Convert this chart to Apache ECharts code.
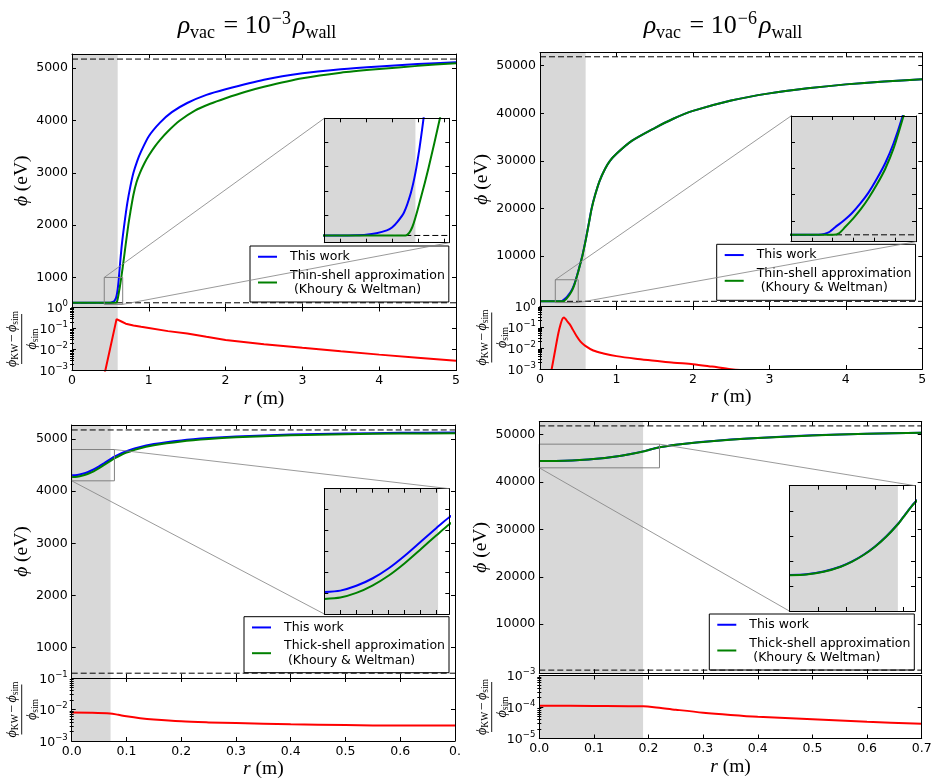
<!DOCTYPE html>
<html><head><meta charset="utf-8"><title>Chameleon field profiles</title>
<script src="https://cdn.jsdelivr.net/npm/echarts@6.0.0/dist/echarts.min.js"></script>
<style>html,body{margin:0;padding:0;background:#fff;}#chart{width:932px;height:779px;}</style>
</head><body><div id="chart"></div>
<script>
// ---------------- data ----------------
const thinTickX = [0, 1, 2, 3, 4, 5];
const thickTickX = [0, 0.1, 0.2, 0.3, 0.4, 0.5, 0.6, 0.7];
const leftTickY = [1000, 2000, 3000, 4000, 5000];
const rightTickY = [10000, 20000, 30000, 40000, 50000];

const tlYRange = [425, 5272];
const trYRange = [-520, 52740];
const blYRange = [420, 5270];
const brYRange = [-350, 52740];

const tlResRange = [1e-3, 1];
const trResRange = [1e-3, 1];
const blResRange = [1e-3, 1e-1];
const brResRange = [1e-5, 1e-3];

const tlWall = [5175, 515];
const trWall = [51880, 463];
const blWall = [5175, 512];
const brWall = [51850, 300];

const tlShade = [0, 0.595];
const trShade = [0, 0.597];
const blShade = [0, 0.071];
const brShade = [0, 0.19];

const tlInsetX = [0.42, 0.66], tlInsetY = [485, 1000];
const tlInsetTickX = [0.45, 0.5, 0.55, 0.6, 0.65], tlInsetTickY = [600, 700, 800, 900];
const trInsetX = [0.2, 0.5], trInsetY = [200, 5000];
const trInsetTickX = [0.25, 0.3, 0.35, 0.4, 0.45], trInsetTickY = [1000, 2000, 3000, 4000];
const blInsetX = [0, 0.078], blInsetY = [4200, 4800];
const blInsetTickX = [0.01, 0.02, 0.03, 0.04, 0.05, 0.06, 0.07], blInsetTickY = [4300, 4400, 4500, 4600, 4700];
const brInsetX = [0, 0.22], brInsetY = [43000, 48000];
const brInsetTickX = [0.05, 0.1, 0.15, 0.2], brInsetTickY = [44000, 45000, 46000, 47000];

const tlBlue = [[0,515],[0.45,515],[0.48,516],[0.5,518],[0.52,524],[0.54,536],[0.55,548],[0.56,570],[0.573,610],[0.586,690],[0.595,775],[0.603,880],[0.61,990],[0.625,1250],[0.65,1640],[0.68,2000],[0.72,2420],[0.76,2740],[0.8,3000],[0.85,3230],[0.9,3410],[1.0,3700],[1.146,3960],[1.3,4160],[1.5,4335],[1.75,4490],[2,4598],[2.5,4780],[3,4904],[3.5,4980],[4,5035],[4.5,5080],[5,5115]];
const tlGreen = [[0,515],[0.576,515],[0.589,550],[0.605,668],[0.62,793],[0.642,1000],[0.66,1190],[0.68,1410],[0.7,1640],[0.733,2000],[0.76,2250],[0.8,2580],[0.84,2820],[0.885,3000],[0.94,3175],[1.0,3330],[1.08,3505],[1.15,3635],[1.25,3795],[1.4,3995],[1.6,4190],[1.8,4320],[2,4426],[2.25,4545],[2.5,4645],[3,4808],[3.5,4915],[4,4985],[4.5,5045],[5,5096]];
const tlRed = [[0.40,0.0004],[0.434,0.001],[0.58,0.28],[0.6,0.26],[0.65,0.21],[0.7,0.17],[0.8,0.14],[0.9,0.12],[1.0,0.105],[1.25,0.075],[1.5,0.058],[1.75,0.04],[2,0.028],[2.5,0.018],[3,0.012],[3.5,0.0082],[4,0.0057],[4.5,0.0041],[5,0.0029]];

const trBlue = [[0,463],[0.25,463],[0.266,466],[0.28,500],[0.293,580],[0.306,752],[0.326,1000],[0.346,1285],[0.366,1650],[0.386,2072],[0.406,2600],[0.426,3195],[0.446,3950],[0.466,4900],[0.5,6800],[0.53,8600],[0.553,10000],[0.6,13600],[0.64,17000],[0.675,20000],[0.72,22800],[0.78,25800],[0.85,28300],[0.915,30000],[1.0,31500],[1.2,34200],[1.5,36900],[1.75,38900],[2,40500],[2.5,42700],[3,44190],[3.5,45250],[4,46080],[4.5,46700],[5,47140]];
const trGreen = [[0,463],[0.302,463],[0.315,520],[0.33,760],[0.35,1100],[0.368,1450],[0.386,1858],[0.406,2380],[0.426,2976],[0.447,3800],[0.47,5000],[0.5,6700],[0.53,8500],[0.553,9900],[0.6,13500],[0.64,16900],[0.675,19900],[0.72,22750],[0.78,25780],[0.85,28290],[0.915,30000],[1.0,31500],[1.2,34200],[1.5,36900],[1.75,38900],[2,40500],[2.5,42700],[3,44190],[3.5,45250],[4,46080],[4.5,46700],[5,47140]];
const trRed = [[0.13,0.0004],[0.153,0.001],[0.2,0.0085],[0.24,0.05],[0.27,0.14],[0.295,0.25],[0.314,0.28],[0.335,0.24],[0.36,0.18],[0.392,0.13],[0.43,0.075],[0.48,0.036],[0.53,0.02],[0.588,0.013],[0.697,0.0076],[0.83,0.0055],[1.0,0.0041],[1.25,0.0031],[1.5,0.0025],[1.75,0.002],[2.0,0.0017],[2.25,0.0013],[2.5,0.00098],[3,0.0007]];

const blBlue = [[0,4305],[0.01,4312],[0.02,4335],[0.03,4370],[0.04,4418],[0.05,4478],[0.06,4545],[0.07,4612],[0.078,4663],[0.09,4725],[0.1,4768],[0.12,4836],[0.15,4905],[0.2,4975],[0.25,5020],[0.3,5050],[0.4,5088],[0.5,5107],[0.6,5120],[0.7,5127]];
const blGreen = [[0,4272],[0.01,4279],[0.02,4301],[0.03,4336],[0.04,4383],[0.05,4442],[0.06,4509],[0.07,4577],[0.078,4630],[0.09,4695],[0.1,4740],[0.12,4811],[0.15,4882],[0.2,4955],[0.25,5002],[0.3,5033],[0.4,5072],[0.5,5093],[0.6,5106],[0.7,5112]];
const blRed = [[0,0.008],[0.035,0.0079],[0.07,0.0075],[0.085,0.0068],[0.1,0.0061],[0.125,0.0053],[0.15,0.0048],[0.2,0.0042],[0.25,0.0039],[0.3,0.0037],[0.4,0.0034],[0.5,0.0032],[0.6,0.0031],[0.7,0.0031]];

const brBlue = [[0,44440],[0.03,44470],[0.06,44574],[0.09,44778],[0.11,44980],[0.13,45244],[0.15,45575],[0.17,45982],[0.19,46471],[0.2,46770],[0.21,47070],[0.22,47340],[0.235,47630],[0.25,47870],[0.275,48210],[0.3,48490],[0.35,48960],[0.4,49310],[0.5,49860],[0.6,50210],[0.7,50430]];
const brGreen = [[0,44430],[0.03,44460],[0.06,44564],[0.09,44768],[0.11,44970],[0.13,45234],[0.15,45565],[0.17,45972],[0.19,46461],[0.2,46760],[0.21,47060],[0.22,47330],[0.235,47620],[0.25,47860],[0.275,48200],[0.3,48480],[0.35,48950],[0.4,49300],[0.5,49850],[0.6,50200],[0.7,50420]];
const brRed = [[0,1.1e-4],[0.1,1.08e-4],[0.19,1.05e-4],[0.21,9.9e-5],[0.25,8.2e-5],[0.3,6.6e-5],[0.35,5.6e-5],[0.4,4.9e-5],[0.5,4.1e-5],[0.6,3.4e-5],[0.7,2.95e-5]];

const nameThis = 'This work';
const nameThin = 'Thin-shell approximation\n (Khoury & Weltman)';
const nameThick = 'Thick-shell approximation\n (Khoury & Weltman)';

// ---------------- styling ----------------
const FONT = 'DejaVu Sans', SERIF = 'Liberation Serif';
const BLUE = '#0000ff', GREEN = '#008000', RED = '#ff0000', SHADE = '#d8d8d8', BOXC = '#808080';

const grids = [], xAxes = [], yAxes = [], series = [], legends = [], links = [], graphics = [];

function grid(r) { grids.push({left: r[0], top: r[1], width: r[2], height: r[3], containLabel: false, outerBoundsMode: 'none'}); return grids.length - 1; }
function addX(o) { xAxes.push(o); return xAxes.length - 1; }
function addY(o) { yAxes.push(o); return yAxes.length - 1; }
function valAxis(g, pos, range, ticks, opts) {
  return Object.assign({
    type: 'value', gridIndex: g, position: pos, min: range[0], max: range[1], z: 10,
    axisLine: {show: true, onZero: false, lineStyle: {color: '#000', width: 1}},
    axisTick: {show: true, inside: true, length: 4, lineStyle: {color: '#000', width: 1}, customValues: ticks},
    axisLabel: {show: false}, splitLine: {show: false}, splitArea: {show: false}
  }, opts || {});
}
function labelStyle(ticks, fmt) {
  return {show: true, customValues: ticks, fontFamily: FONT, fontSize: 12.5, color: '#000', margin: 4, formatter: fmt};
}
const nameRich = {
  i: {fontFamily: SERIF, fontStyle: 'italic', fontSize: 19.5, color: '#000'},
  n: {fontFamily: SERIF, fontSize: 19.5, color: '#000'}
};
function logAxis(g, pos, range, labels) {
  return {
    type: 'log', logBase: 10, gridIndex: g, position: pos, min: range[0], max: range[1], z: 10,
    axisLine: {show: true, onZero: false, lineStyle: {color: '#000', width: 1}},
    axisTick: {show: true, inside: true, length: 4, lineStyle: {color: '#000', width: 1}},
    axisLabel: labels ? {
      show: true, margin: 4,
      formatter: v => { const e = Math.round(Math.log10(v)); return '{b|10}{s|' + (e < 0 ? '\u2212' + (-e) : e) + '}'; },
      rich: {
        b: {fontFamily: FONT, fontSize: 12.5, color: '#000', lineHeight: 16, verticalAlign: 'bottom'},
        s: {fontFamily: FONT, fontSize: 8.5, color: '#000', lineHeight: 10, verticalAlign: 'top'}
      }
    } : {show: false},
    splitLine: {show: false}, minorTick: {show: false}
  };
}
function minorLog(range) {
  const a = Math.round(Math.log10(range[0])), b = Math.round(Math.log10(range[1]));
  const out = [];
  for (let n = a; n < b; n++) for (let k = 2; k <= 9; k++) out.push(n + Math.log10(k));
  return out;
}
function curve(xi, yi, data, color, name, z, extra) {
  series.push(Object.assign({
    type: 'line', name: name, xAxisIndex: xi, yAxisIndex: yi, data: data,
    symbol: 'none', showSymbol: false, smooth: 0.25,
    lineStyle: {color: color, width: 2}, itemStyle: {color: color},
    z: z, silent: true, clip: true, animation: false
  }, extra || {}));
}
function shade(xi, yi, s, yr) {
  series.push({
    type: 'line', xAxisIndex: xi, yAxisIndex: yi, data: [[s[0], yr[1]], [s[1], yr[1]]],
    symbol: 'none', lineStyle: {width: 0, opacity: 0},
    areaStyle: {color: SHADE, opacity: 1, origin: 'start'}, z: 1, silent: true, clip: true, animation: false
  });
}
function dashed(xi, yi, xr, levels) {
  levels.forEach(v => series.push({
    type: 'line', xAxisIndex: xi, yAxisIndex: yi, data: [[xr[0], v], [xr[1], v]],
    symbol: 'none', lineStyle: {color: '#000', width: 1, type: [6, 3]}, z: 2, silent: true, clip: true, animation: false
  }));
}
function box(xi, yi, bx, by) {
  series.push({
    type: 'line', xAxisIndex: xi, yAxisIndex: yi,
    data: [[bx[0], by[0]], [bx[1], by[0]], [bx[1], by[1]], [bx[0], by[1]], [bx[0], by[0]]],
    symbol: 'none', lineStyle: {color: BOXC, width: 1}, z: 4, silent: true, clip: true, animation: false
  });
}
const titleRich = {
  i: {fontFamily: SERIF, fontStyle: 'italic', fontSize: 26, color: '#000', lineHeight: 32, verticalAlign: 'middle'},
  n: {fontFamily: SERIF, fontSize: 26, color: '#000', lineHeight: 32, verticalAlign: 'middle', padding: [0, 1, 0, 2]},
  s: {fontFamily: SERIF, fontSize: 18, color: '#000', lineHeight: 18, verticalAlign: 'bottom'},
  p: {fontFamily: SERIF, fontSize: 18, color: '#000', lineHeight: 16, verticalAlign: 'top', padding: [0, 2, 0, 0]}
};
const fracRich = {
  i: {fontFamily: SERIF, fontStyle: 'italic', fontSize: 14, color: '#000', lineHeight: 16, verticalAlign: 'middle'},
  n: {fontFamily: SERIF, fontSize: 14, color: '#000', lineHeight: 16, verticalAlign: 'middle', padding: [0, 2, 0, 2]},
  s: {fontFamily: SERIF, fontSize: 9.5, color: '#000', lineHeight: 8, verticalAlign: 'bottom'}
};

function buildPanel(P) {
  const gM = grid(P.main), gR = grid(P.res), gI = grid(P.inset);
  const xM = addX(valAxis(gM, 'bottom', P.xRange, P.xTicks));
  addX(valAxis(gM, 'top', P.xRange, P.xTicks));
  const yM = addY(valAxis(gM, 'left', P.yRange, P.yTicks, {
    axisLabel: labelStyle(P.yTicks, v => String(v)),
    name: '{i|\u03d5}{n| (eV)}', nameLocation: 'middle', nameGap: P.yNameGap, nameRotate: 90,
    nameTextStyle: {rich: nameRich}
  }));
  addY(valAxis(gM, 'right', P.yRange, P.yTicks));

  const xR = addX(valAxis(gR, 'bottom', P.xRange, P.xTicks, {
    axisLabel: labelStyle(P.xTicks, P.xFmt),
    name: '{i|r}{n| (m)}', nameLocation: 'middle', nameGap: 18, nameTextStyle: {rich: nameRich}
  }));
  addX(valAxis(gR, 'top', P.xRange, P.xTicks));
  const yR = addY(logAxis(gR, 'left', P.resRange, true));
  addY(logAxis(gR, 'right', P.resRange, false));
  const mn = minorLog(P.resRange);
  const lr = [Math.log10(P.resRange[0]), Math.log10(P.resRange[1])];
  ['left', 'right'].forEach(pos => addY(valAxis(gR, pos, lr, mn, {
    axisLine: {show: false}, axisTick: {show: true, inside: true, length: 2, customValues: mn, lineStyle: {color: '#000', width: 1}}
  })));

  const xI = addX(valAxis(gI, 'bottom', P.insetX, P.insetTX));
  addX(valAxis(gI, 'top', P.insetX, P.insetTX));
  const yI = addY(valAxis(gI, 'left', P.insetY, P.insetTY));
  addY(valAxis(gI, 'right', P.insetY, P.insetTY));

  // main
  shade(xM, yM, P.shade, P.yRange);
  dashed(xM, yM, P.xRange, P.wall);
  curve(xM, yM, P.blue, BLUE, nameThis, 3);
  curve(xM, yM, P.green, GREEN, P.greenName, 3);
  box(xM, yM, P.insetX, P.insetY);
  // residual
  shade(xR, yR, P.shade, P.resRange);
  curve(xR, yR, P.red, RED, 'relative difference', 3, {smooth: P.redSmooth});
  // inset
  shade(xI, yI, [Math.max(P.shade[0], P.insetX[0]), Math.min(P.shade[1], P.insetX[1])], P.insetY);
  dashed(xI, yI, P.insetX, P.wall);
  curve(xI, yI, P.blue, BLUE, nameThis, 3);
  curve(xI, yI, P.green, GREEN, P.greenName, 3);

  legends.push({
    orient: 'vertical', align: 'left', left: P.legend[0], top: P.legend[1],
    data: [nameThis, P.greenName], icon: 'rect', itemWidth: 19, itemHeight: 2, itemGap: 4,
    padding: [3.5, 4, 5, 8], borderColor: '#000', borderWidth: 1, borderRadius: 0,
    backgroundColor: 'transparent', selectedMode: false, z: 6,
    textStyle: {fontFamily: FONT, fontSize: 12.5, color: '#000', lineHeight: 14.5, padding: [0, 0, 0, 8]}
  });
  links.push({xM, yM, xI, yI, bx: P.insetX, by: P.insetY, mode: P.link});

  if (P.title) graphics.push({
    type: 'text', x: P.title[0], y: P.title[1], z: 30,
    style: {text: P.title[2], rich: titleRich, align: 'center', verticalAlign: 'middle'}
  });
  graphics.push({
    type: 'group', x: P.frac[0], y: P.frac[1], rotation: Math.PI / 2, z: 30,
    children: [
      {type: 'text', x: 0, y: -9, style: {text: '{i|\u03d5}{s|KW}{n|\u2212}{i|\u03d5}{s|sim}', rich: fracRich, align: 'center', verticalAlign: 'middle'}},
      {type: 'line', shape: {x1: -25, y1: 0, x2: 25, y2: 0}, style: {stroke: '#000', lineWidth: 0.9}},
      {type: 'text', x: 0, y: 10.5, style: {text: '{i|\u03d5}{s|sim}', rich: fracRich, align: 'center', verticalAlign: 'middle'}}
    ]
  });
}

const fmtInt = v => String(Math.round(v));
const fmtDec = v => v.toFixed(1);
const fmtDecCut = v => (Math.abs(v - 0.7) < 1e-9 ? '0.' : v.toFixed(1));

buildPanel({
  main: [72, 54, 384, 253.5], res: [72, 307.5, 384, 63], inset: [324.3, 118.3, 125, 124.4],
  xRange: [0, 5], xTicks: thinTickX, xFmt: fmtInt, yRange: tlYRange, yTicks: leftTickY, yNameGap: 40,
  resRange: tlResRange, shade: tlShade, wall: tlWall, blue: tlBlue, green: tlGreen, red: tlRed, redSmooth: false,
  insetX: tlInsetX, insetY: tlInsetY, insetTX: tlInsetTickX, insetTY: tlInsetTickY,
  greenName: nameThin, legend: [250, 246], link: 'ul', frac: [21.7, 339],
  title: [257, 26, '{i|\u03c1}{s|vac}{n| = 10}{p|\u22123}{i|\u03c1}{s|wall}']
});
buildPanel({
  main: [540, 52.7, 382.3, 253.3], res: [540, 306, 382.3, 63], inset: [791, 116, 125, 125.7],
  xRange: [0, 5], xTicks: thinTickX, xFmt: fmtInt, yRange: trYRange, yTicks: rightTickY, yNameGap: 48,
  resRange: trResRange, shade: trShade, wall: trWall, blue: trBlue, green: trGreen, red: trRed, redSmooth: 0.3,
  insetX: trInsetX, insetY: trInsetY, insetTX: trInsetTickX, insetTY: trInsetTickY,
  greenName: nameThin, legend: [716.7, 244.3], link: 'ul', frac: [491.7, 337.5],
  title: [723, 26, '{i|\u03c1}{s|vac}{n| = 10}{p|\u22126}{i|\u03c1}{s|wall}']
});
buildPanel({
  main: [71.7, 425, 383.3, 253], res: [71.7, 678, 383.3, 63], inset: [324.3, 488.7, 125, 125.3],
  xRange: [0, 0.7], xTicks: thickTickX, xFmt: fmtDecCut, yRange: blYRange, yTicks: leftTickY, yNameGap: 40,
  resRange: blResRange, shade: blShade, wall: blWall, blue: blBlue, green: blGreen, red: blRed, redSmooth: 0.3,
  insetX: blInsetX, insetY: blInsetY, insetTX: blInsetTickX, insetTY: blInsetTickY,
  greenName: nameThick, legend: [244, 616.7], link: 'ur', frac: [21.7, 709.5], title: null
});
buildPanel({
  main: [539.3, 421.7, 382.4, 251.5], res: [539.3, 675.5, 382.4, 63], inset: [789.3, 485.7, 125.7, 125.3],
  xRange: [0, 0.7], xTicks: thickTickX, xFmt: fmtDec, yRange: brYRange, yTicks: rightTickY, yNameGap: 48,
  resRange: brResRange, shade: brShade, wall: brWall, blue: brBlue, green: brGreen, red: brRed, redSmooth: 0.3,
  insetX: brInsetX, insetY: brInsetY, insetTX: brInsetTickX, insetTY: brInsetTickY,
  greenName: nameThick, legend: [709.3, 614], link: 'ur', frac: [491.7, 707], title: null
});

const chart = echarts.init(document.getElementById('chart'), null, {renderer: 'canvas'});
chart.setOption({
  animation: false, backgroundColor: '#fff',
  grid: grids, xAxis: xAxes, yAxis: yAxes, series: series, legend: legends
});

// connector lines of the zoom insets (mark_inset style)
links.forEach(L => {
  const pairs = L.mode === 'ul'
    ? [[L.bx[0], L.by[1]], [L.bx[1], L.by[0]]]
    : [[L.bx[1], L.by[1]], [L.bx[0], L.by[0]]];
  pairs.forEach(pt => {
    const a = chart.convertToPixel({xAxisIndex: L.xM, yAxisIndex: L.yM}, pt);
    const b = chart.convertToPixel({xAxisIndex: L.xI, yAxisIndex: L.yI}, pt);
    graphics.push({type: 'line', z: 20, silent: true, shape: {x1: a[0], y1: a[1], x2: b[0], y2: b[1]}, style: {stroke: BOXC, lineWidth: 0.8}});
  });
});
chart.setOption({graphic: graphics});
</script></body></html>
